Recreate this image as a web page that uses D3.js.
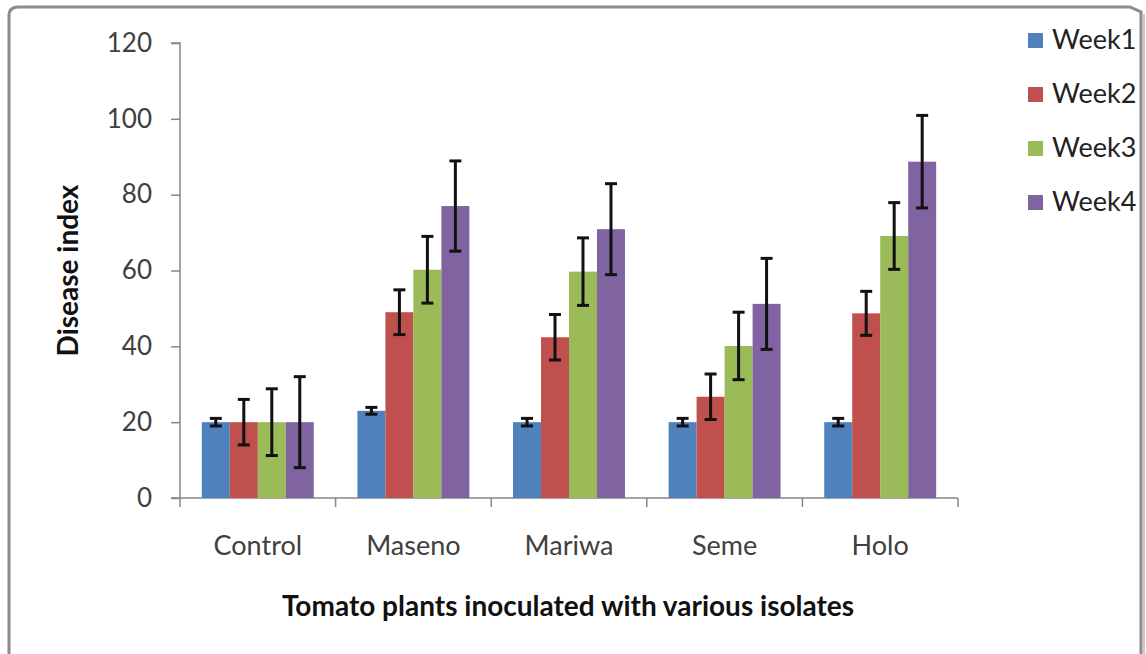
<!DOCTYPE html>
<html>
<head>
<meta charset="utf-8">
<script src="https://cdn.jsdelivr.net/npm/d3@7"></script>
<style>
  body { margin: 0; background: #fff; }
  svg { display: block; }
</style>
</head>
<body>
<div id="chart"></div>
<script>
// data
const isolates = ["Control", "Maseno", "Mariwa", "Seme", "Holo"]
const weeks = ["Week1", "Week2", "Week3", "Week4"]
const week1 = [20, 23, 20, 20, 20]
const week2 = [20, 49, 42.4, 26.7, 48.7]
const week3 = [20, 60.2, 59.7, 40.1, 69.1]
const week4 = [20, 77, 70.9, 51.2, 88.7]
const err1 = [1, 0.9, 1, 1, 1]
const err2 = [6, 5.9, 6, 6, 5.8]
const err3 = [8.8, 8.8, 8.9, 8.9, 8.8]
const err4 = [12, 11.9, 12, 12, 12.2]
const yTicks = [0, 20, 40, 60, 80, 100, 120]
const colors = ["#4F81BD", "#C0504D", "#9BBB59", "#8064A2"]

const values = [week1, week2, week3, week4]
const errors = [err1, err2, err3, err4]

const width = 1146
const height = 654
const font = "Lato, 'Open Sans', sans-serif"

const svg = d3.select("#chart").append("svg")
    .attr("width", width)
    .attr("height", height)

// frame around the chart (the bottom runs off the picture)
svg.append("path")
    .attr("d", "M9,660 L9,16 Q9,7 18,7 L1130,7 L1141,12 L1141,660")
    .attr("fill", "none")
    .attr("stroke", "#8c8c8c")
    .attr("stroke-width", 3)
svg.append("line")
    .attr("x1", 1144).attr("x2", 1144).attr("y1", 14).attr("y2", 660)
    .attr("stroke", "#c8c8c8").attr("stroke-width", 2)

const plotL = 180, plotR = 958, plotT = 43, plotB = 498

const x = d3.scaleBand().domain(isolates).range([plotL, plotR]).paddingInner(0).paddingOuter(0)
const x1 = d3.scaleBand().domain(weeks).range([0, x.bandwidth()]).paddingOuter(0.78).paddingInner(0)
const y = d3.scaleLinear().domain([0, 120]).range([plotB, plotT])

// y axis
const yAxis = svg.append("g")
    .attr("transform", "translate(" + plotL + ",0)")
    .call(d3.axisLeft(y).tickValues(yTicks).tickSize(9).tickPadding(19))
yAxis.selectAll("line, path").attr("stroke", "#868686").attr("stroke-width", 1.5)
yAxis.select(".domain").attr("d", "M-9," + plotT + "H0V" + plotB + "H-9")
yAxis.selectAll("text").attr("font-family", font).attr("font-size", 26).attr("fill", "#404040")

// x axis with ticks on category boundaries
svg.append("line")
    .attr("x1", plotL).attr("x2", plotR).attr("y1", plotB).attr("y2", plotB)
    .attr("stroke", "#868686").attr("stroke-width", 1.5)
svg.append("g").selectAll("line")
    .data(isolates.concat(["end"]))
    .join("line")
    .attr("x1", (d, i) => plotL + i * x.bandwidth())
    .attr("x2", (d, i) => plotL + i * x.bandwidth())
    .attr("y1", plotB).attr("y2", plotB + 9)
    .attr("stroke", "#868686").attr("stroke-width", 1.5)
svg.append("g").selectAll("text")
    .data(isolates)
    .join("text")
    .attr("x", d => x(d) + x.bandwidth() / 2)
    .attr("y", 555)
    .attr("text-anchor", "middle")
    .attr("font-family", font).attr("font-size", 27).attr("fill", "#404040")
    .text(d => d)

// bars
const groups = svg.append("g").selectAll("g")
    .data(weeks)
    .join("g")
    .attr("fill", (d, i) => colors[i])
groups.selectAll("rect")
    .data((w, i) => isolates.map((c, j) => ({ c: c, w: w, v: values[i][j], e: errors[i][j] })))
    .join("rect")
    .attr("x", d => x(d.c) + x1(d.w))
    .attr("width", x1.bandwidth())
    .attr("y", d => y(d.v))
    .attr("height", d => y(0) - y(d.v))

// error bars
const errs = svg.append("g")
    .attr("stroke", "#111")
    .attr("stroke-width", 3)
    .selectAll("g")
    .data(groups.selectAll("rect").data())
    .join("g")
    .attr("transform", d => "translate(" + (x(d.c) + x1(d.w) + x1.bandwidth() / 2) + ",0)")
errs.append("line").attr("y1", d => y(d.v + d.e)).attr("y2", d => y(d.v - d.e))
errs.append("line").attr("x1", -6).attr("x2", 6).attr("y1", d => y(d.v + d.e)).attr("y2", d => y(d.v + d.e))
errs.append("line").attr("x1", -6).attr("x2", 6).attr("y1", d => y(d.v - d.e)).attr("y2", d => y(d.v - d.e))

// axis titles
svg.append("text")
    .attr("transform", "translate(78," + ((plotT + plotB) / 2) + ") rotate(-90)")
    .attr("text-anchor", "middle")
    .attr("font-family", font).attr("font-size", 28).attr("font-weight", "bold").attr("fill", "#111")
    .text("Disease index")
svg.append("text")
    .attr("x", 568).attr("y", 616)
    .attr("text-anchor", "middle")
    .attr("font-family", font).attr("font-size", 28).attr("font-weight", "bold").attr("fill", "#111")
    .text("Tomato plants inoculated with various isolates")

// legend
const legend = svg.append("g").selectAll("g")
    .data(weeks)
    .join("g")
    .attr("transform", (d, i) => "translate(1028," + (40 + i * 54) + ")")
legend.append("rect")
    .attr("x", 0).attr("y", -7).attr("width", 15).attr("height", 15)
    .attr("fill", (d, i) => colors[i])
legend.append("text")
    .attr("x", 24).attr("y", 9)
    .attr("font-family", font).attr("font-size", 27).attr("fill", "#222")
    .text(d => d)
</script>
</body>
</html>
